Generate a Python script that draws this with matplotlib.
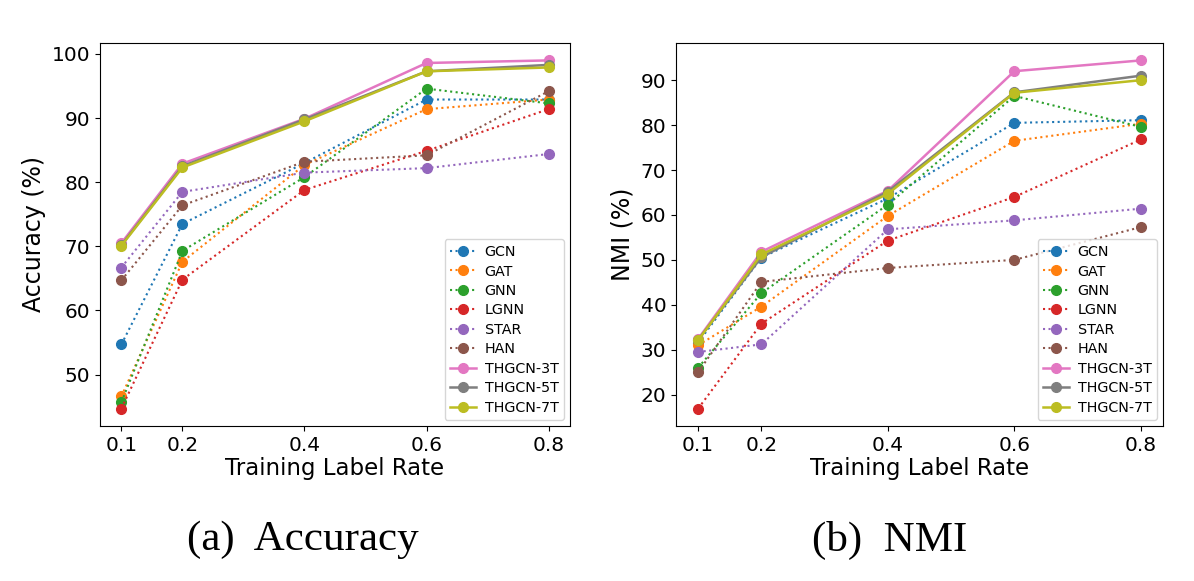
import numpy as np
import matplotlib
matplotlib.use('Agg')
import matplotlib.pyplot as plt

######## data

rates = [0.1, 0.2, 0.4, 0.6, 0.8]
methods = ['GCN', 'GAT', 'GNN', 'LGNN', 'STAR', 'HAN',
           'THGCN-3T', 'THGCN-5T', 'THGCN-7T']

acc_gcn = [54.7, 73.5, 83.0, 92.9, 92.9]
acc_gat = [46.6, 67.6, 82.7, 91.4, 92.9]
acc_gnn = [45.7, 69.3, 80.8, 94.6, 92.3]
acc_lgnn = [44.7, 64.8, 78.8, 84.9, 91.4]
acc_star = [66.7, 78.5, 81.5, 82.2, 84.4]
acc_han = [64.7, 76.4, 83.2, 84.2, 94.2]
acc_3t = [70.5, 82.9, 89.9, 98.6, 99.0]
acc_5t = [70.2, 82.5, 89.8, 97.3, 98.3]
acc_7t = [70.1, 82.3, 89.5, 97.3, 97.9]

nmi_gcn = [31.6, 50.5, 63.7, 80.5, 81.1]
nmi_gat = [31.0, 39.6, 59.8, 76.5, 80.3]
nmi_gnn = [26.0, 42.6, 62.3, 86.5, 79.6]
nmi_lgnn = [16.9, 35.8, 54.3, 64.0, 76.8]
nmi_star = [29.5, 31.2, 56.8, 58.8, 61.4]
nmi_han = [25.0, 45.1, 48.2, 50.0, 57.3]
nmi_3t = [32.4, 51.8, 65.4, 92.0, 94.4]
nmi_5t = [32.2, 50.6, 65.2, 87.3, 91.0]
nmi_7t = [32.1, 51.2, 64.7, 87.2, 90.0]

acc = [acc_gcn, acc_gat, acc_gnn, acc_lgnn, acc_star, acc_han, acc_3t, acc_5t, acc_7t]
nmi = [nmi_gcn, nmi_gat, nmi_gnn, nmi_lgnn, nmi_star, nmi_han, nmi_3t, nmi_5t, nmi_7t]

### draw

fig = plt.figure(figsize=(11.94, 5.81), dpi=100)
ax1 = fig.add_axes([100/1194, 1-426/581, 470/1194, 383/581])
ax2 = fig.add_axes([676/1194, 1-426/581, 487/1194, 383/581])


def draw(ax, data, ylabel):
    for i, (name, vals) in enumerate(zip(methods, data)):
        ls = ':' if i < 6 else '-'
        lw = 1.5 if i < 6 else 1.8
        ax.plot(rates, vals, ls, color='C%d' % i, marker='o', ms=7,
                lw=lw, label=name)
    ax.set_xticks(rates)
    ax.set_xticklabels(['0.1', '0.2', '0.4', '0.6', '0.8'])
    ax.tick_params(labelsize=14.5)
    ax.set_xlabel('Training Label Rate', fontsize=16.5, labelpad=2)
    ax.set_ylabel(ylabel, fontsize=17)
    ax.legend(loc='lower right', fontsize=10.3, handlelength=1.8,
              handletextpad=0.6, labelspacing=0.38, borderaxespad=0.4)


draw(ax1, acc, 'Accuracy (%)')
draw(ax2, nmi, 'NMI (%)')
ax1.set_yticks([50, 60, 70, 80, 90, 100])
ax2.set_yticks([20, 30, 40, 50, 60, 70, 80, 90])

fig.text(303/1194, 1-540/581, '(a)  Accuracy', ha='center', va='center',
         fontsize=31, family='Liberation Serif')
fig.text(890/1194, 1-540/581, '(b)  NMI', ha='center', va='center',
         fontsize=31, family='Liberation Serif')

plt.savefig('out.png', dpi=100)
